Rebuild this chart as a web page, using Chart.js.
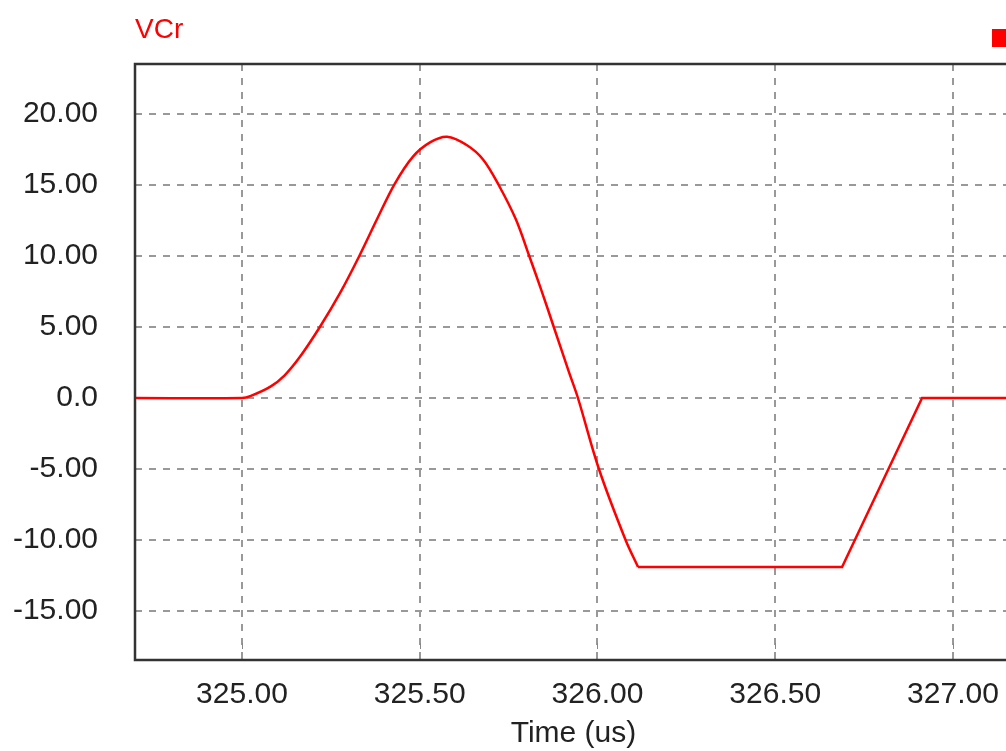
<!DOCTYPE html>
<html>
<head>
    <title>VCr</title>
    <script src="https://cdn.jsdelivr.net/npm/chart.js"></script>
    <style>
        body {
            margin: 0;
            overflow: hidden;
            background: white;
        }
        .wrap {
            width: 1020px;
            height: 751px;
        }
    </style>
</head>
<body>
    <div class="wrap">
        <canvas id="vcrChart" width="1020" height="751"></canvas>
    </div>

    <script>
        // resonant capacitor voltage, time in us
        const timeUs = [324.70, 325.000, 325.025, 325.080, 325.120, 325.163, 325.219, 325.276, 325.330,
            325.380, 325.430, 325.481, 325.529, 325.577, 325.633, 325.678, 325.722, 325.770,
            325.808, 325.842, 325.877, 325.920, 325.945, 326.004, 326.079, 326.114, 326.688,
            326.913, 327.20];
        const vcr = [0, 0, 0.15, 0.8, 1.6, 2.9, 5.0, 7.4, 10.0,
            12.6, 15.1, 17.0, 18.0, 18.4, 17.8, 16.8, 15.0, 12.6,
            10.0, 7.6, 5.0, 1.8, 0, -5.0, -10.0, -11.9, -11.9,
            0, 0];
        // index where the resonant swing ends and the clamped part starts
        const clampStart = 25;

        const xTicks = [325, 325.5, 326, 326.5, 327];
        const xTickLabels = ['325.00', '325.50', '326.00', '326.50', '327.00'];
        const yTicks = [-15, -10, -5, 0, 5, 10, 15, 20];
        const yTickLabels = ['-15.00', '-10.00', '-5.00', '0.0', '5.00', '10.00', '15.00', '20.00'];

        const seriesName = 'VCr';
        const xTitle = 'Time (us)';

        const FONT = '"Liberation Sans", Arial, sans-serif';

        // frame, labels and small tick marks
        const decor = {
            id: 'decor',
            afterDraw(chart) {
                const ctx = chart.ctx;
                const a = chart.chartArea;
                const xs = chart.scales.x;
                ctx.save();

                ctx.strokeStyle = '#888';
                ctx.lineWidth = 1;
                xTicks.forEach(v => {
                    const px = Math.round(xs.getPixelForValue(v)) + 0.5;
                    ctx.beginPath();
                    ctx.moveTo(px, a.bottom - 17);
                    ctx.lineTo(px, a.bottom - 11);
                    ctx.stroke();
                });

                ctx.strokeStyle = '#333';
                ctx.lineWidth = 2.5;
                ctx.strokeRect(a.left, a.top, a.right - a.left, a.bottom - a.top);

                ctx.fillStyle = '#ff0000';
                ctx.font = '28px ' + FONT;
                ctx.textAlign = 'left';
                ctx.textBaseline = 'alphabetic';
                ctx.fillText(seriesName, a.left, 38);
                ctx.fillRect(992, 29, 18, 18);

                ctx.fillStyle = '#222';
                ctx.font = '30px ' + FONT;
                ctx.textAlign = 'center';
                ctx.fillText(xTitle, (a.left + a.right) / 2, a.bottom + 82);
                ctx.restore();
            }
        };

        const points = timeUs.map((t, i) => ({ x: t, y: vcr[i] }));

        const lineStyle = {
            label: seriesName,
            borderColor: '#ff0000',
            borderWidth: 2.5,
            pointRadius: 0,
            fill: false
        };

        new Chart(document.getElementById('vcrChart'), {
            type: 'line',
            data: {
                datasets: [
                    // smooth resonant swing
                    Object.assign({}, lineStyle, {
                        data: points.slice(0, clampStart + 1),
                        tension: 0.35
                    }),
                    // clamped flat and linear ramp back to zero
                    Object.assign({}, lineStyle, {
                        data: points.slice(clampStart),
                        tension: 0
                    })
                ]
            },
            options: {
                responsive: false,
                animation: false,
                layout: { padding: { top: 64, right: 8, left: 0, bottom: 0 } },
                plugins: {
                    legend: { display: false },
                    tooltip: { enabled: false }
                },
                scales: {
                    x: {
                        type: 'linear',
                        min: 324.699,
                        max: 327.166,
                        afterFit: s => { s.height = 91; },
                        afterBuildTicks: s => { s.ticks = xTicks.map(v => ({ value: v })); },
                        grid: { color: '#999', lineWidth: 2, drawTicks: false },
                        border: { display: false, dash: [7, 7] },
                        ticks: {
                            padding: 17,
                            color: '#222',
                            font: { family: FONT, size: 30 },
                            maxRotation: 0,
                            callback: (v, i) => xTickLabels[i]
                        }
                    },
                    y: {
                        min: -18.45,
                        max: 23.52,
                        afterFit: s => { s.width = 135; },
                        afterBuildTicks: s => { s.ticks = yTicks.map(v => ({ value: v })); },
                        grid: { color: '#999', lineWidth: 2, drawTicks: false },
                        border: { display: false, dash: [7, 7] },
                        ticks: {
                            padding: 37,
                            color: '#222',
                            font: { family: FONT, size: 30 },
                            callback: (v, i) => yTickLabels[i]
                        }
                    }
                }
            },
            plugins: [decor]
        });
    </script>
</body>
</html>
